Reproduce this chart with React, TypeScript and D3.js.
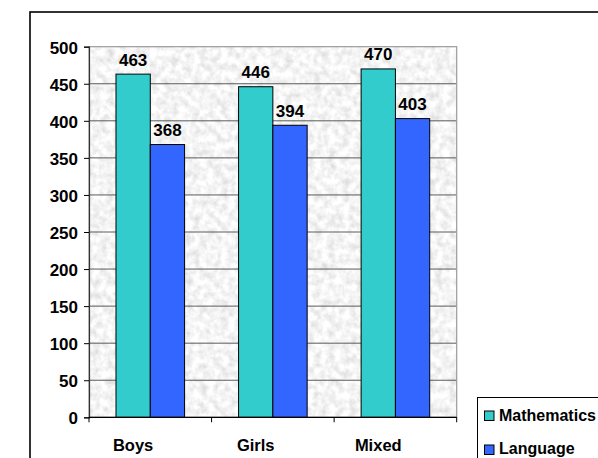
import * as d3 from "d3";
import React, { useEffect, useRef } from "react";

const categories = ["Boys", "Girls", "Mixed"];
const seriesNames = ["Mathematics", "Language"];
const mathValues = [463, 446, 470];
const languageValues = [368, 394, 403];
const yTicks = [0, 50, 100, 150, 200, 250, 300, 350, 400, 450, 500];
const colors = ["#33CCCC", "#3366FF"];

export default function App() {
  const svgRef = useRef<SVGSVGElement>(null);
  const W = 598;
  const H = 458;
  const plot = { left: 89, right: 456.7, top: 46.7, bottom: 417.3 };

  useEffect(() => {
    document.body.style.margin = "0";
    const svg = d3.select(svgRef.current);
    svg.selectAll("*").remove();

    const font = "'Liberation Sans', Arial, sans-serif";

    // granite texture
    const defs = svg.append("defs");
    const filt = defs.append("filter").attr("id", "granite")
      .attr("x", 0).attr("y", 0).attr("width", 1).attr("height", 1);
    filt.append("feTurbulence")
      .attr("type", "fractalNoise")
      .attr("baseFrequency", 0.14)
      .attr("numOctaves", 4)
      .attr("seed", 3)
      .attr("result", "noise");
    filt.append("feColorMatrix")
      .attr("in", "noise")
      .attr("type", "matrix")
      .attr("values", "0.5 0 0 0 0.66  0.5 0 0 0 0.66  0.5 0 0 0 0.66  0 0 0 0 1");

    // outer frame
    svg.append("rect")
      .attr("x", 30).attr("y", 12)
      .attr("width", 700).attr("height", 600)
      .attr("fill", "none").attr("stroke", "#000").attr("stroke-width", 1.6);

    const x0 = d3.scaleBand().domain(categories).range([plot.left, plot.right]).padding(0);
    const x1 = d3.scaleBand().domain(seriesNames).range([0, x0.bandwidth()])
      .paddingInner(0).paddingOuter(0.787);
    const y = d3.scaleLinear().domain([0, 500]).range([plot.bottom, plot.top]);

    // plot background
    svg.append("rect")
      .attr("x", plot.left).attr("y", plot.top)
      .attr("width", plot.right - plot.left).attr("height", plot.bottom - plot.top)
      .attr("filter", "url(#granite)");

    // gridlines
    svg.append("g").selectAll("line")
      .data(yTicks.filter((t) => t > 0 && t < 500))
      .enter().append("line")
      .attr("x1", plot.left).attr("x2", plot.right)
      .attr("y1", (d) => y(d)).attr("y2", (d) => y(d))
      .attr("stroke", "#5a5a5a").attr("stroke-width", 1);

    // plot border
    svg.append("rect")
      .attr("x", plot.left).attr("y", plot.top)
      .attr("width", plot.right - plot.left).attr("height", plot.bottom - plot.top)
      .attr("fill", "none").attr("stroke", "#9a9a9a").attr("stroke-width", 1.2);

    // bars
    const data = categories.map((c, i) => ({
      cat: c,
      vals: [
        { s: seriesNames[0], v: mathValues[i] },
        { s: seriesNames[1], v: languageValues[i] },
      ],
    }));
    const groups = svg.append("g").selectAll("g")
      .data(data).enter().append("g")
      .attr("transform", (d) => `translate(${x0(d.cat)},0)`);
    groups.selectAll("rect")
      .data((d) => d.vals).enter().append("rect")
      .attr("x", (d) => x1(d.s)!)
      .attr("width", x1.bandwidth())
      .attr("y", (d) => y(d.v))
      .attr("height", (d) => y(0) - y(d.v))
      .attr("fill", (d, i) => colors[i])
      .attr("stroke", "#000").attr("stroke-width", 1);
    groups.selectAll("text")
      .data((d) => d.vals).enter().append("text")
      .attr("x", (d) => x1(d.s)! + x1.bandwidth() / 2)
      .attr("y", (d) => y(d.v) - 8.5)
      .attr("text-anchor", "middle")
      .attr("font-family", font).attr("font-weight", "bold").attr("font-size", 17)
      .attr("fill", "#000")
      .text((d) => d.v);

    // y axis
    const yAxis = svg.append("g")
      .attr("transform", `translate(${plot.left},0)`)
      .call(d3.axisLeft(y).tickValues(yTicks).tickSize(5).tickPadding(6));
    yAxis.select(".domain").attr("stroke", "#333").attr("stroke-width", 1.2);
    yAxis.selectAll(".tick line").attr("stroke", "#000");
    yAxis.selectAll(".tick text")
      .attr("font-family", font).attr("font-weight", "bold").attr("font-size", 17)
      .attr("dy", "0.38em").attr("fill", "#000");

    // x axis
    svg.append("line")
      .attr("x1", plot.left).attr("x2", plot.right)
      .attr("y1", y(0)).attr("y2", y(0))
      .attr("stroke", "#000").attr("stroke-width", 1.2);
    const bounds = [plot.left, ...categories.map((c) => x0(c)! + x0.step())];
    svg.append("g").selectAll("line")
      .data(bounds).enter().append("line")
      .attr("x1", (d) => d).attr("x2", (d) => d)
      .attr("y1", y(0)).attr("y2", y(0) + 5)
      .attr("stroke", "#000");
    svg.append("g").selectAll("text")
      .data(categories).enter().append("text")
      .attr("x", (d) => x0(d)! + x1(seriesNames[0])! + x1.bandwidth() / 2)
      .attr("y", 450.5)
      .attr("text-anchor", "middle")
      .attr("font-family", font).attr("font-weight", "bold").attr("font-size", 16.5)
      .attr("fill", "#000")
      .text((d) => d);

    // legend
    const lg = svg.append("g").attr("transform", "translate(477.5,397.5)");
    lg.append("rect")
      .attr("x", 0).attr("y", 0).attr("width", 200).attr("height", 100)
      .attr("fill", "#fff").attr("stroke", "#000").attr("stroke-width", 1);
    seriesNames.forEach((s, i) => {
      lg.append("rect")
        .attr("x", 7).attr("y", 13.5 + i * 34)
        .attr("width", 9.5).attr("height", 9.5)
        .attr("fill", colors[i]).attr("stroke", "#000").attr("stroke-width", 1);
      lg.append("text")
        .attr("x", 21.5).attr("y", 23.5 + i * 32.5)
        .attr("font-family", font).attr("font-weight", "bold").attr("font-size", 16)
        .attr("fill", "#000")
        .text(s);
    });
  }, []);

  return (
    <svg ref={svgRef} width={W} height={H}
      style={{ display: "block", background: "#fff" }} />
  );
}
